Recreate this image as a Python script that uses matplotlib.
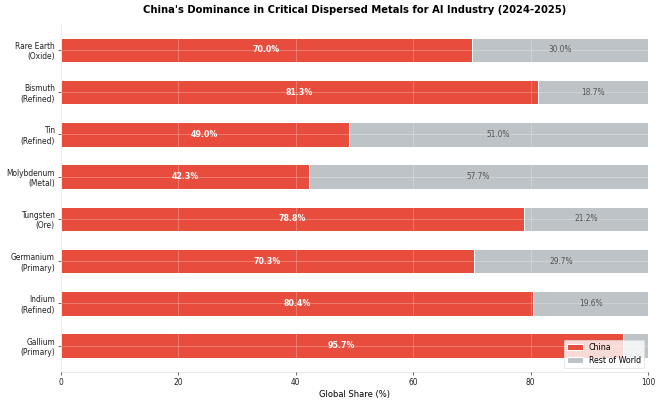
import matplotlib
matplotlib.use("Agg")
import matplotlib.pyplot as plt
import numpy as np

# data, bottom to top as drawn
metals = ["Gallium\n(Primary)", "Indium\n(Refined)", "Germanium\n(Primary)", "Tungsten\n(Ore)",
          "Molybdenum\n(Metal)", "Tin\n(Refined)", "Bismuth\n(Refined)", "Rare Earth\n(Oxide)"]
china = [95.7, 80.4, 70.3, 78.8, 42.3, 49.0, 81.3, 70.0]
rest = [4.3, 19.6, 29.7, 21.2, 57.7, 51.0, 18.7, 30.0]

RED = '#e74c3c'
GREY = '#bdc3c7'

fig = plt.figure(figsize=(11, 6.7), dpi=60)
ax = fig.add_axes([0.092, 0.075, 0.89, 0.868])

y = np.arange(len(metals))
ax.barh(y, china, height=0.58, color=RED, edgecolor='white', linewidth=1.2, label='China', zorder=2)
ax.barh(y, rest, left=china, height=0.58, color=GREY, edgecolor='white', linewidth=1.2,
        label='Rest of World', zorder=2)

for i in range(len(metals)):
    ax.text(china[i] / 2, y[i], f"{china[i]:.1f}%", ha='center', va='center',
            color='white', fontweight='bold', fontsize=9.5, zorder=4)
    if rest[i] > 5:
        ax.text(china[i] + rest[i] / 2, y[i], f"{rest[i]:.1f}%", ha='center', va='center',
                color='#555555', fontsize=9, zorder=4)

ax.set_yticks(y)
ax.set_yticklabels(metals, fontsize=9, color='#222222')
ax.set_xlim(0, 100)
ax.set_ylim(-0.62, 7.64)
ax.tick_params(axis='x', labelsize=9)
ax.tick_params(colors='#222222')
ax.set_xlabel('Global Share (%)', fontsize=10)
ax.set_title("China's Dominance in Critical Dispersed Metals for AI Industry (2024-2025)",
             fontsize=12, fontweight='bold', pad=12)

ax.grid(True, color='white', alpha=0.3, linewidth=1, zorder=3)
ax.set_axisbelow(False)
for s in ['top', 'right']:
    ax.spines[s].set_visible(False)
for s in ['left', 'bottom']:
    ax.spines[s].set_color('#dddddd')

ax.legend(loc='lower right', fontsize=9.5, framealpha=0.8, edgecolor='#dddddd')

fig.savefig('out.png', dpi=60)
